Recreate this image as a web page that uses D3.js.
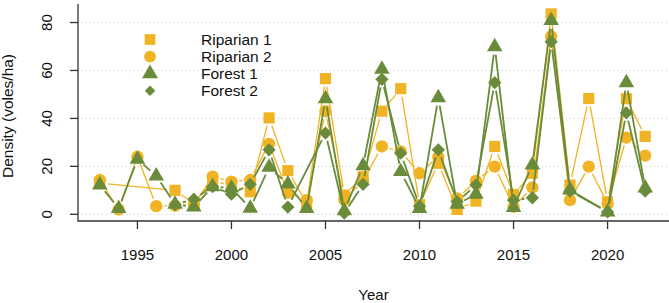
<!DOCTYPE html>
<html>
<head>
<meta charset="utf-8">
<script src="https://cdn.jsdelivr.net/npm/d3@7"></script>
<style>
  body { margin: 0; background: #fff; }
  svg { display: block; font-family: "Liberation Sans", Arial, sans-serif; }
</style>
</head>
<body>
<div id="chart"></div>
<script>
// vole densities per site (missing years left out)
const riparian1Years = [1993, 1997, 1998, 1999, 2000, 2001, 2002, 2003, 2004, 2005, 2006, 2007, 2008, 2009, 2010, 2011, 2012, 2013, 2014, 2015, 2016, 2017, 2018, 2019, 2020, 2021, 2022];
const riparian1 = [13, 10, 4.5, 14, 12, 9.4, 40.2, 18.2, 4.6, 56.6, 8, 15.7, 43, 52.4, 4, 21.3, 2, 5.5, 28.3, 8.3, 17.1, 83.6, 12.2, 48.3, 5.2, 48.2, 32.5];

const riparian2Years = [1993, 1994, 1995, 1996, 1997, 1998, 1999, 2000, 2001, 2002, 2003, 2004, 2005, 2006, 2007, 2008, 2009, 2010, 2011, 2012, 2013, 2014, 2015, 2016, 2017, 2018, 2019, 2020, 2021, 2022];
const riparian2 = [14.3, 2, 24, 3.4, 3.6, 4.2, 15.7, 13.6, 14.3, 29.4, 9, 5.9, 43, 6, 14, 28.3, 26.2, 17.1, 24, 6.6, 13.9, 19.9, 3.1, 11.2, 74.2, 5.9, 19.9, 4.5, 32, 24.5];

const forest1Years = [1993, 1994, 1995, 1996, 1997, 1998, 1999, 2000, 2001, 2002, 2003, 2004, 2005, 2006, 2007, 2008, 2009, 2010, 2011, 2012, 2013, 2014, 2015, 2016, 2017, 2018, 2020, 2021, 2022];
const forest1 = [12.2, 2.4, 23, 16, 4.2, 3, 11.5, 11, 2.5, 19.6, 12.6, 2.4, 48.2, 1.5, 20.3, 60.5, 17.8, 2.4, 48.6, 4.2, 8.4, 69.9, 2.8, 20.6, 80.8, 10.1, 1, 54.9, 11];

const forest2Years = [1997, 1998, 1999, 2000, 2001, 2002, 2003, 2005, 2006, 2007, 2008, 2009, 2010, 2011, 2012, 2013, 2014, 2015, 2016, 2017, 2018, 2020, 2021, 2022];
const forest2 = [4, 6.3, 11.5, 8.4, 12.5, 26.9, 3, 33.9, 0.5, 12.5, 56.3, 25.5, 3.4, 26.9, 5.2, 12.2, 54.9, 5.9, 6.9, 72, 9.7, 1, 42.3, 9.7];

const seriesNames = ["Riparian 1", "Riparian 2", "Forest 1", "Forest 2"];
const xTicks = [1995, 2000, 2005, 2010, 2015, 2020];
const yTicks = [0, 20, 40, 60, 80];

const orange = "#f0b323";
const green = "#6a8c3a";

const series = [
  { name: seriesNames[0], years: riparian1Years, values: riparian1, color: orange, shape: "square", lw: 1.3 },
  { name: seriesNames[1], years: riparian2Years, values: riparian2, color: orange, shape: "circle", lw: 1.3 },
  { name: seriesNames[2], years: forest1Years, values: forest1, color: green, shape: "triangle", lw: 1.8 },
  { name: seriesNames[3], years: forest2Years, values: forest2, color: green, shape: "diamond", lw: 1.8 }
];

const width = 669, height = 303;
const margin = { top: 6, right: 2, bottom: 82, left: 78 };

const svg = d3.select("#chart").append("svg")
  .attr("width", width)
  .attr("height", height);

// R style 4% padding on both axes
const x = d3.scaleLinear().domain([1991.84, 2023.16]).range([margin.left, width - margin.right]);
const y = d3.scaleLinear().domain([-2.8, 86.9]).range([height - margin.bottom, margin.top]);

const symbolPath = {
  square: d3.symbol(d3.symbolSquare, 125)(),
  circle: d3.symbol(d3.symbolCircle, 120)(),
  triangle: d3.symbol(d3.symbolTriangle, 105)(),
  diamond: d3.symbol(d3.symbolSquare, 88)()
};

// grid
svg.append("g")
  .selectAll("line")
  .data(yTicks)
  .join("line")
  .attr("x1", margin.left)
  .attr("x2", width)
  .attr("y1", d => y(d))
  .attr("y2", d => y(d))
  .attr("stroke", "#c8c8c8")
  .attr("stroke-width", 1)
  .attr("stroke-dasharray", "1,3");

// lines drawn R "b" style: segments stop short of the points
const gap = 8;
series.forEach(s => {
  const pts = s.years.map((yr, i) => [x(yr), y(s.values[i])]);
  const segs = [];
  for (let i = 0; i < pts.length - 1; i++) {
    const [x1, y1] = pts[i], [x2, y2] = pts[i + 1];
    const len = Math.hypot(x2 - x1, y2 - y1);
    if (len <= 2 * gap) continue;
    const ux = (x2 - x1) / len, uy = (y2 - y1) / len;
    segs.push([x1 + ux * gap, y1 + uy * gap, x2 - ux * gap, y2 - uy * gap]);
  }
  const g = svg.append("g");
  g.selectAll("line")
    .data(segs)
    .join("line")
    .attr("x1", d => d[0]).attr("y1", d => d[1])
    .attr("x2", d => d[2]).attr("y2", d => d[3])
    .attr("stroke", s.color)
    .attr("stroke-width", s.lw);

  g.selectAll("path")
    .data(pts)
    .join("path")
    .attr("d", symbolPath[s.shape])
    .attr("transform", d => `translate(${d[0]},${d[1]})` + (s.shape === "diamond" ? " rotate(45)" : ""))
    .attr("fill", s.color);
});

// axes (L shaped box)
const axisColor = "#333";
svg.append("path")
  .attr("d", `M${margin.left},${margin.top - 2}V${height - margin.bottom}H${width}`)
  .attr("fill", "none")
  .attr("stroke", axisColor)
  .attr("stroke-width", 1.3);

const yAxis = svg.append("g");
yAxis.selectAll("line")
  .data(yTicks)
  .join("line")
  .attr("x1", margin.left - 8).attr("x2", margin.left)
  .attr("y1", d => y(d)).attr("y2", d => y(d))
  .attr("stroke", axisColor).attr("stroke-width", 1.3);
yAxis.selectAll("text")
  .data(yTicks)
  .join("text")
  .attr("transform", d => `translate(52,${y(d)}) rotate(-90)`)
  .attr("text-anchor", "middle")
  .attr("font-size", 15)
  .attr("fill", "#111")
  .text(d => d);

const xAxis = svg.append("g");
xAxis.selectAll("line")
  .data(xTicks)
  .join("line")
  .attr("x1", d => x(d)).attr("x2", d => x(d))
  .attr("y1", height - margin.bottom).attr("y2", height - margin.bottom + 8)
  .attr("stroke", axisColor).attr("stroke-width", 1.3);
xAxis.selectAll("text")
  .data(xTicks)
  .join("text")
  .attr("x", d => x(d))
  .attr("y", 260)
  .attr("text-anchor", "middle")
  .attr("font-size", 15)
  .attr("fill", "#111")
  .text(d => d);

svg.append("text")
  .attr("x", (margin.left + width) / 2)
  .attr("y", 300)
  .attr("text-anchor", "middle")
  .attr("font-size", 15)
  .attr("fill", "#111")
  .text("Year");

svg.append("text")
  .attr("transform", "translate(13,116) rotate(-90)")
  .attr("text-anchor", "middle")
  .attr("font-size", 15.5)
  .attr("fill", "#111")
  .text("Density (voles/ha)");

// legend
const legendSymbol = {
  square: d3.symbol(d3.symbolSquare, 115)(),
  circle: d3.symbol(d3.symbolCircle, 110)(),
  triangle: d3.symbol(d3.symbolTriangle, 110)(),
  diamond: d3.symbol(d3.symbolSquare, 55)()
};
const legend = svg.append("g");
series.forEach((s, i) => {
  const ly = 39.5 + i * 17.1;
  legend.append("path")
    .attr("d", legendSymbol[s.shape])
    .attr("transform", `translate(150,${ly})` + (s.shape === "diamond" ? " rotate(45)" : ""))
    .attr("fill", s.color);
  legend.append("text")
    .attr("x", 201)
    .attr("y", ly + 5.5)
    .attr("font-size", 15.5)
    .attr("fill", "#111")
    .text(s.name);
});
</script>
</body>
</html>
